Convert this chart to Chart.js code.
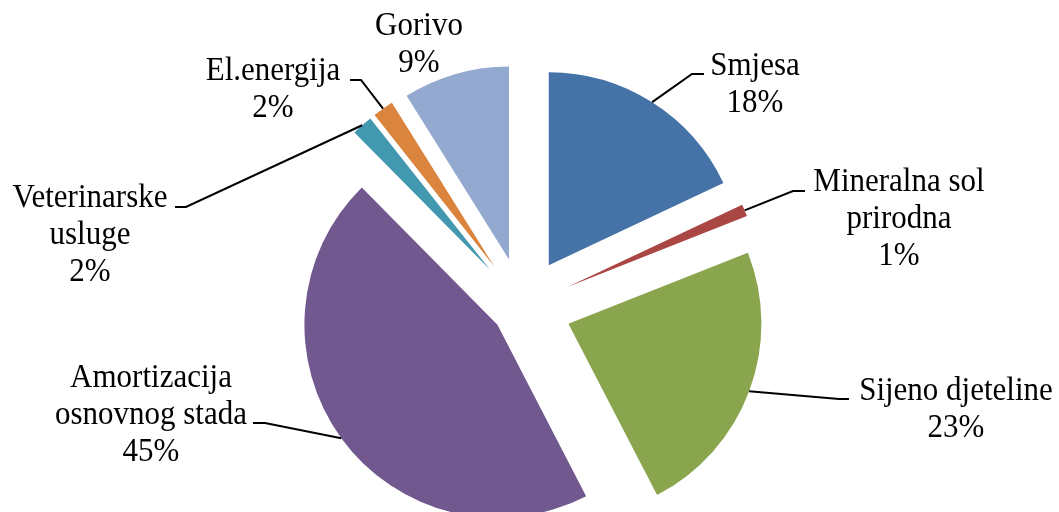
<!DOCTYPE html>
<html>
<head>
<meta charset="utf-8">
<title>Struktura troškova</title>
<script src="https://cdn.jsdelivr.net/npm/chart.js@4.4.1/dist/chart.umd.min.js"></script>
<style>
  html, body { margin: 0; padding: 0; background: #fff; }
  #wrap { width: 1059px; height: 512px; position: relative; }
</style>
</head>
<body>
<div id="wrap"><canvas id="pie"></canvas></div>
<script>
// Data (shares in %)
const categories = ['Smjesa', 'Mineralna sol prirodna', 'Sijeno djeteline',
  'Amortizacija osnovnog stada', 'Veterinarske usluge', 'El.energija', 'Gorivo'];
const shares = [18.0, 1.0, 23.4, 45.2, 1.75, 1.75, 8.9];
// how each category name is broken into lines on the chart
const labelLines = [
  ['Smjesa'],
  ['Mineralna sol', 'prirodna'],
  ['Sijeno djeteline'],
  ['Amortizacija', 'osnovnog stada'],
  ['Veterinarske', 'usluge'],
  ['El.energija'],
  ['Gorivo']
];

// Styling / layout
const sliceColors = ['#4572A7', '#AA4643', '#89A54E', '#71588F', '#4198AF', '#DB843D', '#93A9CF'];
const explode = [49, 49, 49, 31, 49, 49, 49];
// label anchor: text centre x, first baseline y, leader elbow and end (null = no leader)
const labelPos = [
  { x: 755, y: 75,  elbow: [692, 74],  end: 704 },
  { x: 899, y: 191, elbow: [793, 191], end: 805 },
  { x: 956, y: 400, elbow: [839, 399], end: 849 },
  { x: 151, y: 387, elbow: [265, 423], end: 253 },
  { x: 90,  y: 207, elbow: [186, 207], end: 175 },
  { x: 273, y: 80,  elbow: [361, 80],  end: 350 },
  { x: 419, y: 35,  elbow: null }
];
const FONT = '31px "Liberation Serif", "Times New Roman", serif';
const LINE_H = 37;

// draws each slice pushed out along its middle angle
const explodedSlices = {
  id: 'explodedSlices',
  beforeDatasetDraw(chart, args) {
    const ctx = chart.ctx;
    args.meta.data.forEach((arc, i) => {
      const mid = (arc.startAngle + arc.endAngle) / 2;
      ctx.save();
      ctx.translate(Math.cos(mid) * explode[i], Math.sin(mid) * explode[i]);
      arc.draw(ctx);
      ctx.restore();
    });
    return false;
  }
};

// category + percent labels with leader lines
const pieLabels = {
  id: 'pieLabels',
  afterDraw(chart) {
    const ctx = chart.ctx;
    const arcs = chart.getDatasetMeta(0).data;
    ctx.save();
    ctx.font = FONT;
    ctx.fillStyle = '#000';
    ctx.textAlign = 'center';
    ctx.textBaseline = 'alphabetic';
    arcs.forEach((arc, i) => {
      const pos = labelPos[i];
      if (pos.elbow) {
        const mid = (arc.startAngle + arc.endAngle) / 2;
        const r = arc.outerRadius + explode[i];
        ctx.beginPath();
        ctx.moveTo(arc.x + Math.cos(mid) * r, arc.y + Math.sin(mid) * r);
        ctx.lineTo(pos.elbow[0], pos.elbow[1]);
        ctx.lineTo(pos.end, pos.elbow[1]);
        ctx.strokeStyle = '#000';
        ctx.lineWidth = 2;
        ctx.stroke();
      }
      const lines = labelLines[i].concat([Math.round(shares[i]) + '%']);
      lines.forEach((txt, k) => {
        ctx.save();
        ctx.translate(pos.x, pos.y + k * LINE_H);
        ctx.scale(1, 1.065);
        ctx.fillText(txt, 0, 0);
        ctx.restore();
      });
    });
    ctx.restore();
  }
};

new Chart(document.getElementById('pie'), {
  type: 'pie',
  data: {
    labels: categories,
    datasets: [{
      data: shares,
      backgroundColor: sliceColors,
      borderWidth: 0,
      radius: 193
    }]
  },
  options: {
    responsive: true,
    maintainAspectRatio: false,
    animation: false,
    events: [],
    layout: { padding: { left: 0, right: 14, top: 101, bottom: 0 } },
    plugins: {
      legend: { display: false },
      tooltip: { enabled: false }
    }
  },
  plugins: [explodedSlices, pieLabels]
});
</script>
</body>
</html>
